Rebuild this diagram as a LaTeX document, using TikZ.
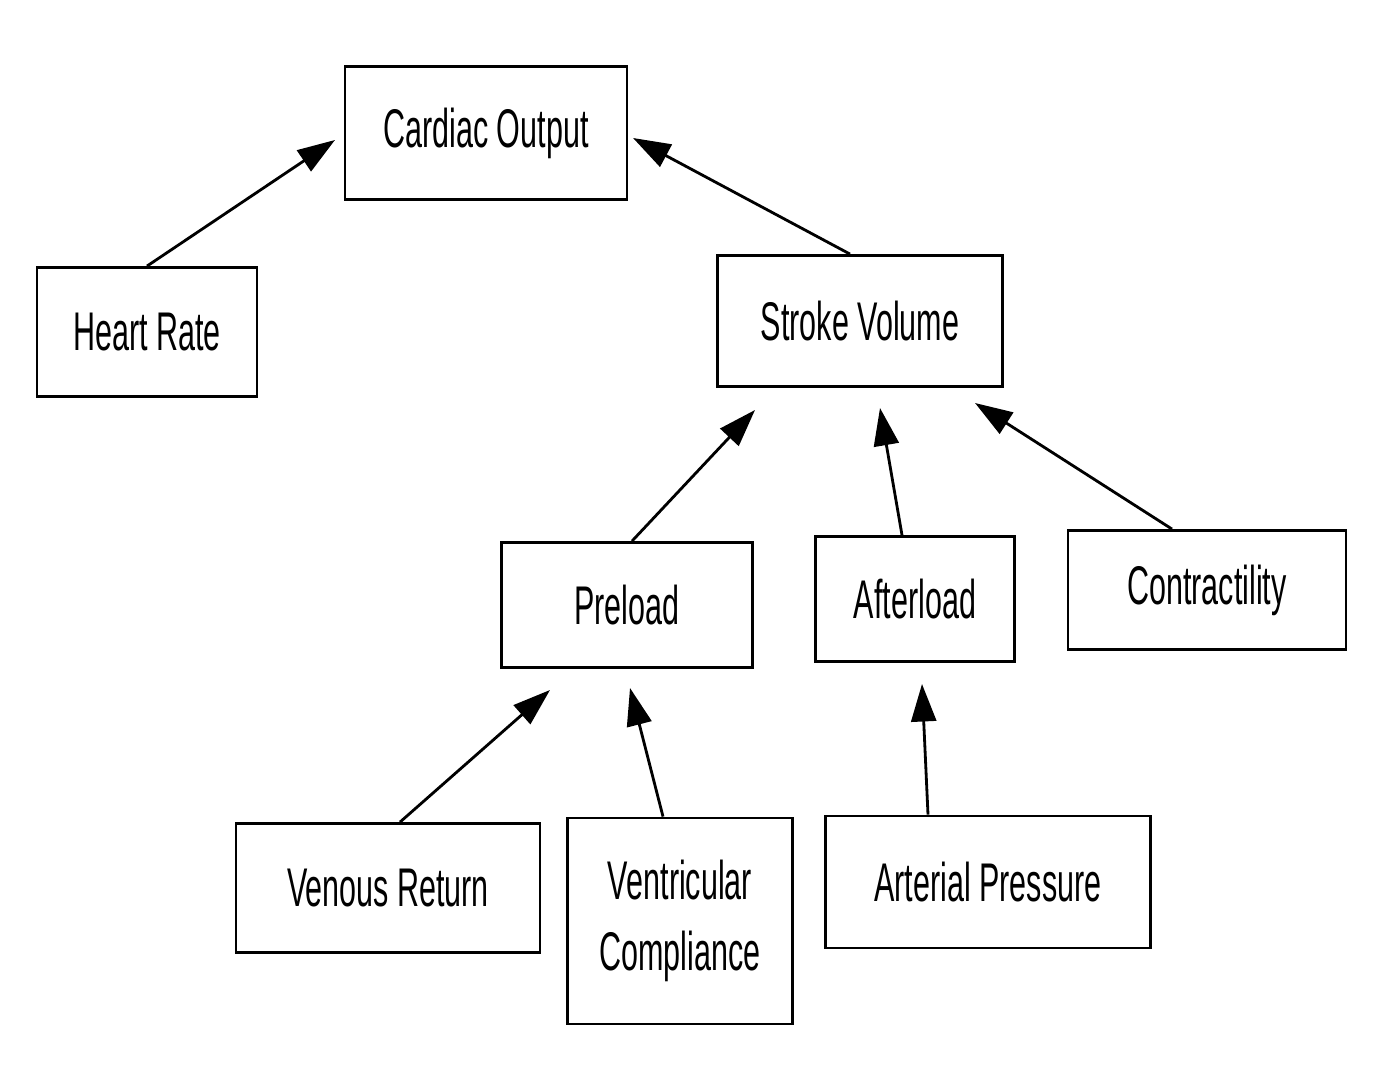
\documentclass[tikz,border=0pt]{standalone}
\usepackage{fontspec}
\setmainfont{Liberation Sans}[FakeStretch=0.56]
\usepackage{tikz}
\usetikzlibrary{arrows.meta,positioning}
\tikzset{
    %Define standard arrow tip
    >={Triangle[length=0.75cm,width=0.5cm]},
    %Define style for boxes
    factor/.style={
           rectangle,
           draw=black, line width=1.6pt,
           font=\fontsize{31}{40}\selectfont,
           align=center,
           inner sep=0pt},
    % Define arrow style
    pil/.style={
           ->,
           line width=1.6pt}
}
\begin{document}
\begin{tikzpicture}
\useasboundingbox (0,0) rectangle (27.5,-21.8);
\node[factor, minimum width=5.64cm, minimum height=2.66cm] (co) at (9.72,-2.66) {Cardiac Output};
\node[factor, minimum width=4.4cm, minimum height=2.58cm] (hr) at (2.94,-6.64) {Heart Rate};
\node[factor, minimum width=5.7cm, minimum height=2.62cm] (sv) at (17.2,-6.42) {Stroke Volume};
\node[factor, minimum width=5.02cm, minimum height=2.5cm] (pl) at (12.54,-12.1) {Preload};
\node[factor, minimum width=3.98cm, minimum height=2.5cm] (al) at (18.3,-11.98) {Afterload};
\node[factor, minimum width=5.56cm, minimum height=2.38cm] (ct) at (24.14,-11.8) {Contractility};
\node[factor, minimum width=6.08cm, minimum height=2.58cm] (vr) at (7.76,-17.76) {Venous Return};
\node[factor, minimum width=4.5cm, minimum height=4.12cm] (vc) at (13.6,-18.42) {Ventricular\\Compliance};
\node[factor, minimum width=6.5cm, minimum height=2.64cm] (ap) at (19.76,-17.64) {Arterial Pressure};
% arrow tips
\coordinate (co1) at (6.7,-2.8);
\coordinate (co2) at (12.66,-2.76);
\coordinate (sv1) at (15.1,-8.2);
\coordinate (sv2) at (17.6,-8.16);
\coordinate (sv3) at (19.5,-8.06);
\coordinate (pl1) at (11.0,-13.8);
\coordinate (pl2) at (12.6,-13.76);
\coordinate (al1) at (18.44,-13.68);
\draw[pil] (hr.north) -- (co1);
\draw[pil] ([xshift=-0.2cm]sv.north) -- (co2);
\draw[pil] ([xshift=0.1cm]pl.north) -- (sv1);
\draw[pil] ([xshift=-0.26cm]al.north) -- (sv2);
\draw[pil] ([xshift=-0.7cm]ct.north) -- (sv3);
\draw[pil] ([xshift=0.24cm]vr.north) -- (pl1);
\draw[pil] ([xshift=-0.34cm]vc.north) -- (pl2);
\draw[pil] ([xshift=-1.2cm]ap.north) -- (al1);
\end{tikzpicture}
\end{document}
